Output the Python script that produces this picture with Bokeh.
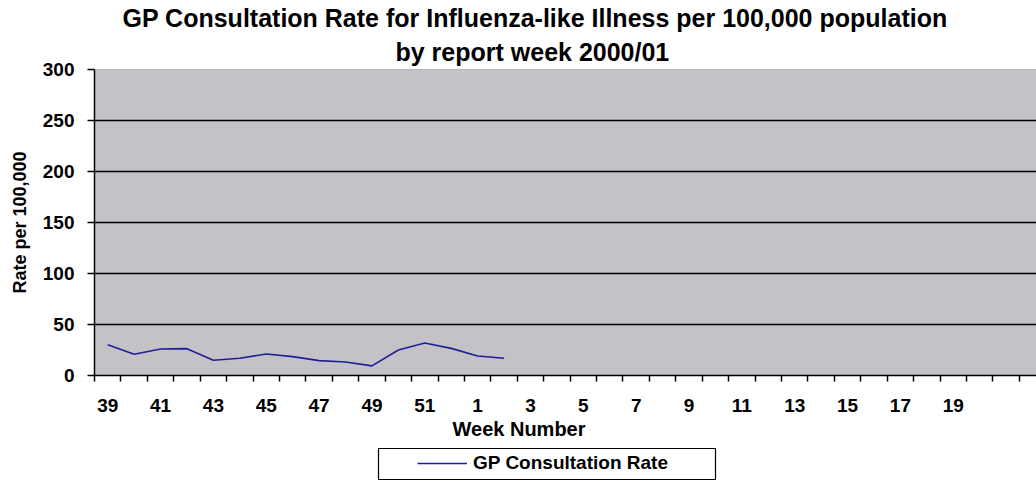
from bokeh.plotting import figure
from bokeh.layouts import column
from bokeh.models import (Range1d, FixedTicker, Legend, LegendItem, Span, Title)
from bokeh.embed import file_html
from bokeh.resources import INLINE

# ---------------- data ----------------
TITLE_LINES = ["GP Consultation Rate for Influenza-like Illness per 100,000 population",
               "by report week 2000/01"]
X_TITLE = "Week Number"
Y_TITLE = "Rate per 100,000"
SERIES_NAME = "GP Consultation Rate"

WEEKS = [39, 40, 41, 42, 43, 44, 45, 46, 47, 48, 49, 50, 51, 52,
         1, 2, 3, 4, 5, 6, 7, 8, 9, 10, 11, 12, 13, 14, 15, 16, 17, 18, 19, 20]
REPORTED_WEEKS = [39, 40, 41, 42, 43, 44, 45, 46, 47, 48, 49, 50, 51, 52, 1, 2]
RATE = [30.2, 20.8, 26.0, 26.3, 15.0, 16.9, 21.1, 18.5, 14.6, 13.3, 9.4,
        25.0, 31.8, 26.6, 19.1, 16.9]
X_TICK_LABELS = ["39", "41", "43", "45", "47", "49", "51",
                 "1", "3", "5", "7", "9", "11", "13", "15", "17", "19"]
Y_TICKS = [0, 50, 100, 150, 200, 250, 300]

# ---------------- style ----------------
FONT = "Liberation Sans"
X_END = 35.65          # visible category slots
PLOT_BG = "#C4C2C7"
LINE_COLOR = "#1f1f96"

x_pos = [WEEKS.index(w) + 0.5 for w in REPORTED_WEEKS]
label_pos = [WEEKS.index(int(t)) + 0.5 for t in X_TICK_LABELS]
boundaries = list(range(0, int(X_END) + 1))

p = figure(width=1036, height=448, output_backend="svg", toolbar_location=None,
           x_range=Range1d(0, X_END), y_range=Range1d(Y_TICKS[0], Y_TICKS[-1]),
           min_border_left=94, min_border_right=0, min_border_top=69,
           min_border_bottom=73, frame_align=False)
p.background_fill_color = PLOT_BG
p.border_fill_color = "white"
p.outline_line_color = None

# titles: p.title is the outer line, the added title sits nearer the frame
p.title.text = TITLE_LINES[0]
p.title.align = "left"
p.title.offset = 28
p.title.standoff = 0
p.title.text_font = FONT
p.title.text_font_size = "25px"
p.title.text_font_style = "bold"
p.title.text_color = "black"
p.add_layout(Title(text=TITLE_LINES[1], align="left", offset=301, standoff=8,
                   text_font=FONT, text_font_size="25px", text_font_style="bold",
                   text_color="black"), "above")

# x axis
xa = p.xaxis[0]
xa.ticker = FixedTicker(ticks=label_pos, minor_ticks=boundaries)
xa.major_label_overrides = {pos: t for pos, t in zip(label_pos, X_TICK_LABELS)}
xa.major_tick_out = 0
xa.major_tick_in = 0
xa.minor_tick_out = 6
xa.minor_tick_in = 0
xa.minor_tick_line_color = "black"
xa.minor_tick_line_width = 1.5
xa.axis_line_color = "black"
xa.axis_line_width = 1.5
xa.major_label_standoff = 17
xa.major_label_text_font = FONT
xa.major_label_text_font_size = "19px"
xa.major_label_text_font_style = "bold"
xa.major_label_text_color = "black"

p.add_layout(Title(text=X_TITLE, align="left", offset=358, standoff=2,
                   text_font=FONT, text_font_size="20px", text_font_style="bold",
                   text_color="black"), "below")

# y axis
ya = p.yaxis[0]
ya.ticker = FixedTicker(ticks=Y_TICKS)
ya.major_tick_out = 7
ya.major_tick_in = 0
ya.minor_tick_out = 0
ya.minor_tick_in = 0
ya.major_tick_line_color = "black"
ya.major_tick_line_width = 1.5
ya.axis_line_color = "black"
ya.axis_line_width = 1.5
ya.major_label_standoff = 13
ya.major_label_text_font = FONT
ya.major_label_text_font_size = "19px"
ya.major_label_text_font_style = "bold"
ya.major_label_text_color = "black"
ya.axis_label = Y_TITLE
ya.axis_label_standoff = 10
ya.axis_label_text_font = FONT
ya.axis_label_text_font_size = "18px"
ya.axis_label_text_font_style = "bold"
ya.axis_label_text_color = "black"

# grid
p.xgrid.visible = False
p.ygrid.ticker = FixedTicker(ticks=Y_TICKS[1:-1])
p.ygrid.grid_line_color = "black"
p.ygrid.grid_line_width = 1.6
p.add_layout(Span(location=Y_TICKS[-1], dimension="width",
                  line_color="#8f8f8f", line_width=1.2))

r = p.line(x_pos, RATE, line_color=LINE_COLOR, line_width=1.6)

# legend strip: its frame outline is the legend box; the series is drawn
# there too but lies outside this strip's (off-data) ranges, so only the
# legend sample shows
lg = figure(width=1036, height=32, output_backend="svg", toolbar_location=None,
            x_range=Range1d(-20, -19), y_range=Range1d(-20, -19),
            x_axis_location=None, y_axis_location=None,
            min_border_left=378, min_border_right=321, min_border_top=0,
            min_border_bottom=0, frame_align=False)
lg.xgrid.visible = False
lg.ygrid.visible = False
lg.background_fill_color = "white"
lg.border_fill_color = "white"
lg.outline_line_color = "black"
lg.outline_line_width = 1.2
proxy = lg.line(x_pos, RATE, line_color=LINE_COLOR, line_width=1.6)
legend = Legend(items=[LegendItem(label=SERIES_NAME, renderers=[proxy])],
                location=(39, 6), padding=0, margin=0,
                border_line_color=None, background_fill_alpha=0,
                glyph_width=50, glyph_height=22, label_height=22,
                label_standoff=6, label_text_font=FONT,
                label_text_font_size="19px", label_text_font_style="bold",
                label_text_color="black")
lg.add_layout(legend)

layout = column(p, lg, spacing=0)
open("out.html", "w").write(file_html(layout, INLINE))
